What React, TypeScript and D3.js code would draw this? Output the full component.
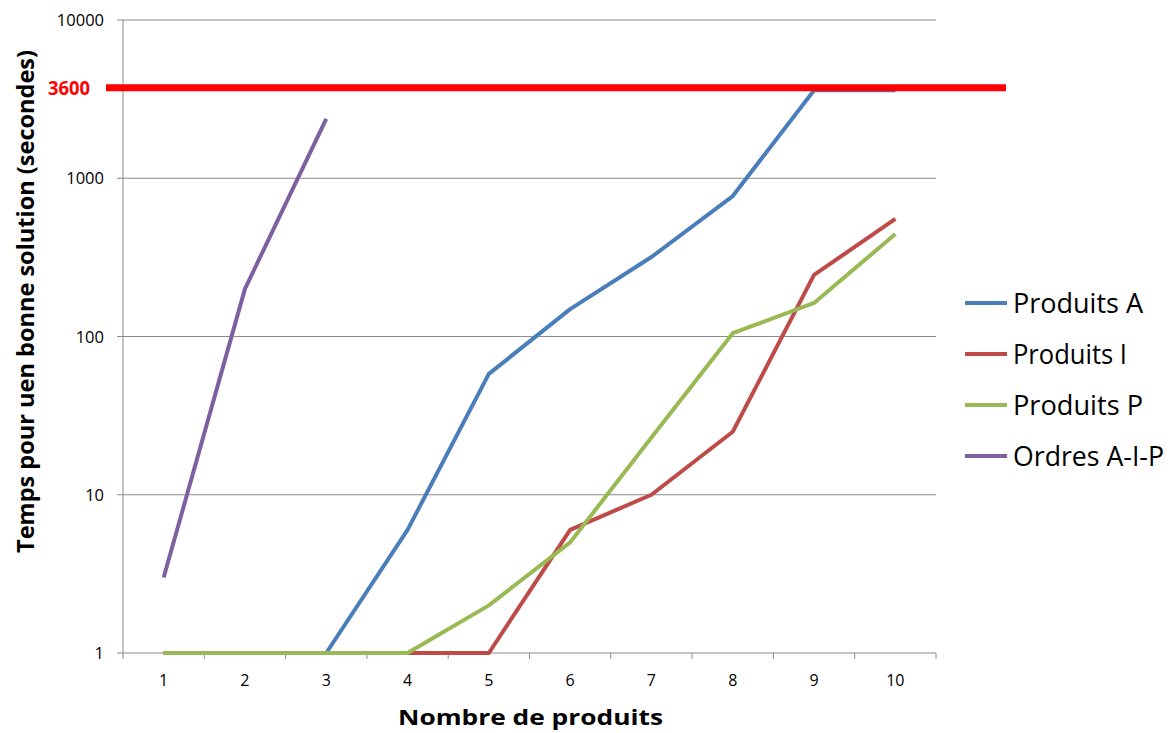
import React from "react";
import * as d3 from "d3";

const categories = [1, 2, 3, 4, 5, 6, 7, 8, 9, 10];
const produitsA = [1, 1, 1, 6, 58, 149, 318, 772, 3600, 3600];
const produitsI = [1, 1, 1, 1, 1, 6, 10, 25, 245, 553];
const produitsP = [1, 1, 1, 1, 2, 5, 23, 105, 163, 444];
const ordresAIP = [3, 200, 2370];
const yTicks = [1, 10, 100, 1000, 10000];
const limitValue = 3600;

const series = [
  { name: "Produits A", values: produitsA, color: "#4A7EBB", len: 130 },
  { name: "Produits I", values: produitsI, color: "#BE4B48", len: 114 },
  { name: "Produits P", values: produitsP, color: "#98B954", len: 130 },
  { name: "Ordres A-I-P", values: ordresAIP, color: "#7D60A0", len: 151 },
];

const W = 1171, H = 733;
const left = 123, right = 936, top = 20, bottom = 653;
const font = "'Open Sans', 'Noto Sans', sans-serif";

export default function App() {
  const x = d3.scaleBand<number>().domain(categories).range([left, right]);
  const y = d3.scaleLog().domain([1, 10000]).range([bottom, top]);
  const cx = (c: number) => (x(c) as number) + x.bandwidth() / 2;
  const line = d3.line<number>().x((_, i) => cx(categories[i])).y((v) => y(v));
  const bounds = d3.range(categories.length + 1).map((i) => left + i * x.step());
  const yl = y(limitValue);

  return (
    <svg width={W} height={H} style={{ position: "absolute", left: 0, top: 0, background: "#fff" }} fontFamily={font}>
      {yTicks.map((t) => (
        <g key={t}>
          <line x1={117} x2={right} y1={y(t)} y2={y(t)} stroke="#8a8a8a" strokeWidth={1} />
          <text x={104} y={y(t) + 6} textAnchor="end" fontSize={16.5} fill="#000">{t}</text>
        </g>
      ))}
      <line x1={left} x2={left} y1={top} y2={bottom} stroke="#8a8a8a" strokeWidth={1} />
      {bounds.map((b, i) => (
        <line key={i} x1={b} x2={b} y1={bottom} y2={bottom + 6} stroke="#8a8a8a" strokeWidth={1} />
      ))}
      {categories.map((c) => (
        <text key={c} x={cx(c)} y={686} textAnchor="middle" fontSize={16} fill="#000">{c}</text>
      ))}
      {series.map((s) => (
        <path key={s.name} d={line(s.values) || ""} fill="none" stroke={s.color} strokeWidth={4} strokeLinejoin="round" />
      ))}
      <line x1={106} x2={1006} y1={yl - 2.5} y2={yl - 2.5} stroke="#ff0000" strokeWidth={7} />
      <text x={48} y={yl + 4.5} fontSize={19} fontWeight="bold" fill="#ff0000" textLength={42} lengthAdjust="spacingAndGlyphs">{limitValue}</text>
      {series.map((s, i) => (
        <g key={s.name}>
          <line x1={965} x2={1007} y1={303 + i * 51} y2={303 + i * 51} stroke={s.color} strokeWidth={4} />
          <text x={1013} y={313 + i * 51} fontSize={27} fill="#000" textLength={s.len} lengthAdjust="spacingAndGlyphs">{s.name}</text>
        </g>
      ))}
      <text x={398} y={725} fontSize={21} fontWeight="bold" fill="#000" textLength={265} lengthAdjust="spacingAndGlyphs">Nombre de produits</text>
      <text transform={`translate(34,553) rotate(-90)`} fontSize={24} fontWeight="bold" fill="#000" textLength={503} lengthAdjust="spacingAndGlyphs">Temps pour uen bonne solution (secondes)</text>
    </svg>
  );
}
